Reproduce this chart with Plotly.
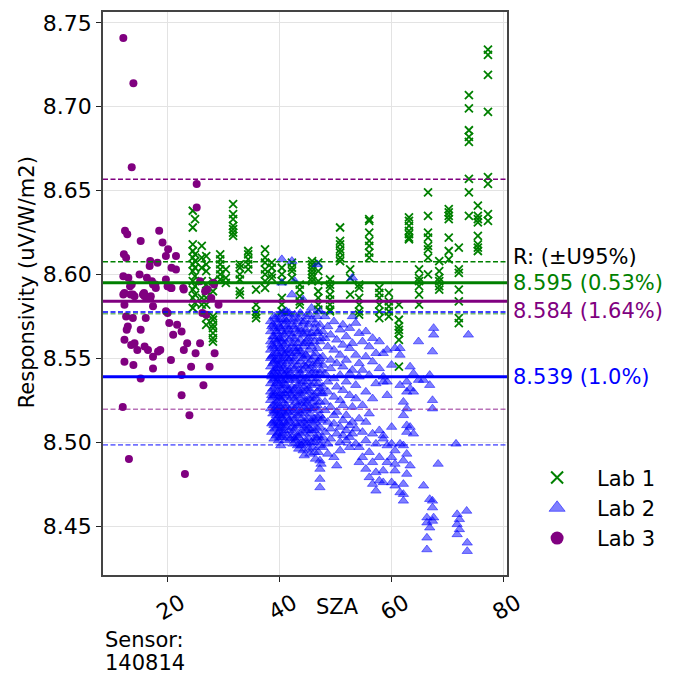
import plotly.graph_objects as go

# ---------------- data ----------------
# Lab 1: measurement columns (SZA) and responsivity values in each column
lab1_col_sza = [24.6, 25.0, 26.2, 27.0, 28.2, 29.5, 30.5, 31.8, 33.0, 34.5, 35.9, 37.5,
                38.7, 40.5, 42.3, 43.7, 45.9, 47.0, 49.1, 50.9, 52.7, 54.3, 56.1, 57.9,
                59.6, 61.4, 63.2, 65.0, 66.6, 68.6, 70.3, 72.1, 73.9, 75.5, 77.3]
lab1_col_resp = [
    [8.638, 8.628, 8.618, 8.614, 8.610, 8.606, 8.602, 8.596, 8.591, 8.586, 8.580],
    [8.633, 8.612, 8.608, 8.604, 8.599, 8.593, 8.588, 8.583],
    [8.617, 8.610, 8.604, 8.596, 8.586, 8.582],
    [8.611, 8.606, 8.602, 8.594, 8.590, 8.586, 8.582, 8.574, 8.570],
    [8.596, 8.590, 8.575, 8.573, 8.570, 8.568, 8.565, 8.562, 8.560],
    [8.612, 8.609, 8.606, 8.603, 8.600, 8.597],
    [8.603, 8.598, 8.595],
    [8.642, 8.636, 8.633, 8.629, 8.627, 8.625, 8.623],
    [8.606, 8.604, 8.600, 8.597, 8.590, 8.588],
    [8.614, 8.612, 8.609, 8.606, 8.603],
    [8.591, 8.582, 8.578, 8.576, 8.574],
    [8.615, 8.610, 8.607, 8.603, 8.600, 8.596, 8.592],
    [8.607, 8.604, 8.600, 8.598],
    [8.604, 8.600, 8.596, 8.586, 8.582, 8.578],
    [8.607, 8.604, 8.602, 8.598],
    [8.594, 8.591, 8.587, 8.584, 8.582],
    [8.608, 8.606, 8.604, 8.602, 8.600, 8.598, 8.596],
    [8.607, 8.602, 8.596, 8.590, 8.586, 8.582, 8.579],
    [8.597, 8.594, 8.592, 8.588, 8.585, 8.582, 8.579, 8.578],
    [8.628, 8.620, 8.618, 8.615, 8.613, 8.610, 8.608],
    [8.603, 8.598, 8.588],
    [8.594, 8.592, 8.586, 8.582, 8.578, 8.576],
    [8.633, 8.632, 8.625, 8.620, 8.617, 8.613, 8.610],
    [8.592, 8.589, 8.586, 8.582, 8.578, 8.574],
    [8.589, 8.584, 8.581, 8.578, 8.575],
    [8.582, 8.573, 8.569, 8.567, 8.565, 8.561, 8.545],
    [8.634, 8.632, 8.629, 8.626, 8.624, 8.622, 8.621],
    [8.603, 8.598, 8.596, 8.593, 8.588, 8.582],
    [8.649, 8.635, 8.625, 8.622, 8.617, 8.615, 8.610, 8.600],
    [8.608, 8.602, 8.598, 8.596, 8.593, 8.591],
    [8.639, 8.637, 8.635, 8.633, 8.622, 8.614, 8.609],
    [8.616, 8.603, 8.601, 8.591, 8.584, 8.574, 8.571],
    [8.707, 8.699, 8.686, 8.682, 8.679, 8.657, 8.649, 8.635],
    [8.641, 8.635, 8.633, 8.631, 8.623, 8.618, 8.616, 8.614],
    [8.734, 8.731, 8.719, 8.697, 8.658, 8.654, 8.636, 8.632],
]

# Lab 2: measurement columns (SZA) and responsivity values in each column
lab2_col_sza = [38.5, 38.7, 38.9, 39.1, 39.3, 39.5, 39.7, 39.9, 40.1, 40.3, 40.5, 40.7,
                40.9, 41.1, 41.3, 41.5, 41.8, 42.0, 42.3, 42.5, 42.8, 43.0, 43.3, 43.5,
                43.8, 44.0, 44.3, 44.5, 44.8, 45.0, 45.3, 45.5, 45.8, 46.0, 46.3, 46.5,
                46.8, 47.0, 47.3, 47.5, 47.8, 48.2, 48.7, 49.2,
                49.8, 50.3, 50.9, 51.4, 52.0, 52.6, 53.1, 53.7, 54.3, 54.9, 55.5, 56.1,
                56.7, 57.3, 57.9, 58.6, 59.3, 60.1, 60.7, 61.6, 62.2, 62.8, 63.4, 64.0,
                64.9, 65.8, 66.4, 66.9, 67.4, 67.6, 68.4, 71.6, 71.8, 72.2, 73.5, 73.6,
                73.8]
lab2_col_resp = [
    [8.572, 8.566, 8.560, 8.555, 8.550, 8.545, 8.540, 8.535, 8.530, 8.525, 8.520],
    [8.569, 8.558, 8.551, 8.539, 8.528, 8.511, 8.506],
    [8.570, 8.563, 8.557, 8.552, 8.547, 8.542, 8.537, 8.532, 8.527, 8.522, 8.517, 8.512],
    [8.575, 8.563, 8.548, 8.541, 8.529, 8.519, 8.510, 8.502],
    [8.574, 8.568, 8.561, 8.556, 8.549, 8.543, 8.538, 8.533, 8.528, 8.523, 8.518, 8.513, 8.508],
    [8.566, 8.553, 8.544, 8.535, 8.521, 8.516, 8.504],
    [8.571, 8.565, 8.559, 8.553, 8.546, 8.541, 8.536, 8.530, 8.524, 8.519, 8.514, 8.509, 8.505],
    [8.573, 8.561, 8.549, 8.538, 8.527, 8.512, 8.501],
    [8.576, 8.569, 8.562, 8.557, 8.551, 8.544, 8.539, 8.534, 8.526, 8.521, 8.516, 8.511, 8.506, 8.503],
    [8.568, 8.556, 8.546, 8.529, 8.518, 8.508, 8.498],
    [8.609, 8.595, 8.573, 8.566, 8.560, 8.554, 8.548, 8.542, 8.537, 8.531, 8.525, 8.520, 8.515, 8.510, 8.503],
    [8.577, 8.562, 8.550, 8.533, 8.527, 8.514, 8.505],
    [8.570, 8.564, 8.558, 8.552, 8.545, 8.540, 8.535, 8.529, 8.523, 8.517, 8.512, 8.507],
    [8.573, 8.555, 8.543, 8.537, 8.520, 8.509, 8.501],
    [8.578, 8.572, 8.566, 8.559, 8.553, 8.547, 8.541, 8.534, 8.528, 8.522, 8.516, 8.511],
    [8.577, 8.569, 8.550, 8.539, 8.531, 8.518, 8.504],
    [8.577, 8.574, 8.567, 8.561, 8.555, 8.549, 8.543, 8.537, 8.531, 8.525, 8.519, 8.513, 8.507],
    [8.565, 8.553, 8.541, 8.529, 8.512, 8.502],
    [8.608, 8.588, 8.570, 8.563, 8.557, 8.551, 8.545, 8.539, 8.533, 8.527, 8.521, 8.515, 8.509, 8.503],
    [8.573, 8.559, 8.548, 8.530, 8.518, 8.506, 8.499],
    [8.596, 8.576, 8.569, 8.562, 8.556, 8.550, 8.544, 8.538, 8.532, 8.526, 8.520, 8.514, 8.508, 8.502],
    [8.567, 8.554, 8.537, 8.524, 8.511, 8.501],
    [8.572, 8.565, 8.559, 8.553, 8.546, 8.540, 8.534, 8.528, 8.522, 8.516, 8.510, 8.504, 8.498],
    [8.574, 8.556, 8.543, 8.531, 8.519, 8.503, 8.496],
    [8.577, 8.568, 8.561, 8.554, 8.548, 8.541, 8.535, 8.529, 8.523, 8.517, 8.511, 8.505, 8.499],
    [8.566, 8.552, 8.539, 8.527, 8.514, 8.498],
    [8.585, 8.571, 8.564, 8.557, 8.550, 8.543, 8.536, 8.530, 8.524, 8.518, 8.512, 8.506, 8.500, 8.495],
    [8.572, 8.559, 8.546, 8.533, 8.521, 8.509, 8.492],
    [8.575, 8.567, 8.560, 8.552, 8.545, 8.538, 8.531, 8.525, 8.519, 8.513, 8.507, 8.501],
    [8.565, 8.551, 8.536, 8.523, 8.510, 8.499],
    [8.570, 8.562, 8.555, 8.547, 8.540, 8.532, 8.526, 8.520, 8.514, 8.508, 8.502, 8.496],
    [8.576, 8.559, 8.544, 8.530, 8.517, 8.505, 8.493],
    [8.580, 8.573, 8.565, 8.557, 8.549, 8.541, 8.534, 8.527, 8.520, 8.513, 8.507, 8.500],
    [8.563, 8.546, 8.538, 8.524, 8.511, 8.497],
    [8.568, 8.560, 8.551, 8.543, 8.535, 8.528, 8.521, 8.514, 8.507, 8.500, 8.494],
    [8.571, 8.553, 8.541, 8.526, 8.512, 8.503, 8.490],
    [8.606, 8.575, 8.565, 8.556, 8.547, 8.538, 8.530, 8.522, 8.515, 8.508, 8.502],
    [8.566, 8.548, 8.535, 8.519, 8.504, 8.494],
    [8.578, 8.570, 8.560, 8.550, 8.541, 8.532, 8.524, 8.516, 8.509, 8.498, 8.489, 8.484, 8.478, 8.473],
    [8.562, 8.543, 8.529, 8.513, 8.501, 8.487],
    [8.566, 8.551, 8.546, 8.533, 8.529, 8.514, 8.503, 8.497],
    [8.575, 8.562, 8.541, 8.524, 8.519, 8.506],
    [8.569, 8.557, 8.536, 8.530, 8.512, 8.499, 8.493],
    [8.564, 8.549, 8.544, 8.521, 8.508, 8.502],
    [8.572, 8.555, 8.538, 8.527, 8.516, 8.511, 8.491],
    [8.561, 8.547, 8.533, 8.518, 8.505, 8.486],
    [8.567, 8.552, 8.540, 8.525, 8.509, 8.500, 8.495],
    [8.570, 8.558, 8.545, 8.531, 8.522, 8.513, 8.504],
    [8.563, 8.549, 8.536, 8.516, 8.507, 8.501],
    [8.568, 8.556, 8.541, 8.528, 8.510, 8.503, 8.497],
    [8.598, 8.575, 8.559, 8.543, 8.521, 8.512, 8.505],
    [8.571, 8.552, 8.534, 8.526, 8.508, 8.499],
    [8.565, 8.547, 8.539, 8.514, 8.497, 8.488],
    [8.560, 8.543, 8.522, 8.506, 8.491],
    [8.566, 8.551, 8.530, 8.512, 8.501, 8.484],
    [8.557, 8.540, 8.517, 8.494, 8.479],
    [8.562, 8.548, 8.526, 8.505, 8.488, 8.475],
    [8.553, 8.535, 8.499, 8.482, 8.471],
    [8.560, 8.544, 8.507, 8.491, 8.477],
    [8.553, 8.539, 8.536, 8.504, 8.502, 8.483, 8.476],
    [8.555, 8.536, 8.528, 8.498, 8.488],
    [8.546, 8.509, 8.499, 8.491, 8.476],
    [8.556, 8.495, 8.487, 8.483, 8.474],
    [8.556, 8.552, 8.534, 8.499, 8.470],
    [8.524, 8.516, 8.498, 8.489, 8.475, 8.469, 8.465],
    [8.536, 8.530, 8.520, 8.510, 8.506, 8.493, 8.481],
    [8.545, 8.532, 8.509, 8.486],
    [8.541, 8.530, 8.505],
    [8.560, 8.537],
    [8.537, 8.474],
    [8.443, 8.436, 8.452, 8.455],
    [8.540, 8.534, 8.466, 8.449],
    [8.554, 8.525, 8.520, 8.465, 8.461, 8.453],
    [8.568, 8.564, 8.455],
    [8.487],
    [8.499],
    [8.457, 8.451, 8.445],
    [8.454, 8.448],
    [8.459],
    [8.440, 8.435],
    [8.564],
]

# Lab 3: individual points
lab3_sza = [12.2, 14.0, 13.7, 25.3, 25.3, 12.5, 12.9, 18.6, 15.3, 19.2, 20.2, 12.3, 12.7,
            19.8, 21.6, 17.0, 16.9, 18.3, 20.8, 21.6, 12.2, 13.1, 15.1, 16.4, 19.8, 13.7,
            17.3, 17.9, 18.0, 20.2, 20.8, 22.9, 25.9, 28.3, 26.8, 12.2, 13.5, 14.2, 15.7,
            16.0, 17.0, 13.4, 17.5, 20.1, 20.7, 23.0, 27.2, 28.4, 12.4, 13.9, 15.9, 17.1,
            16.5, 12.4, 17.5, 27.9, 29.2, 19.8, 20.1, 12.7, 13.9, 16.2, 26.3, 27.0, 13.0,
            12.8, 15.3, 20.4, 21.8, 22.6, 21.1, 12.4, 13.6, 14.2, 14.7, 16.0, 16.6, 17.5,
            18.4, 18.8, 23.6, 23.0, 25.9, 25.1, 28.5, 12.4, 14.0, 17.5, 20.7, 24.3, 27.6,
            15.3, 22.6, 26.5, 22.6, 12.1, 24.0, 13.2, 23.2]
lab3_resp = [8.741, 8.714, 8.664, 8.654, 8.640, 8.626, 8.624, 8.626, 8.620, 8.619, 8.615,
             8.612, 8.610, 8.611, 8.611, 8.608, 8.605, 8.607, 8.604, 8.603, 8.599, 8.598,
             8.600, 8.598, 8.597, 8.594, 8.596, 8.594, 8.592, 8.593, 8.592, 8.592, 8.596,
             8.595, 8.590, 8.588, 8.588, 8.587, 8.588, 8.587, 8.586, 8.593, 8.594, 8.593,
             8.592, 8.591, 8.591, 8.594, 8.589, 8.588, 8.589, 8.587, 8.586, 8.582, 8.581,
             8.586, 8.582, 8.578, 8.577, 8.575, 8.574, 8.574, 8.577, 8.576, 8.569, 8.567,
             8.567, 8.571, 8.570, 8.566, 8.564, 8.561, 8.558, 8.559, 8.555, 8.557, 8.555,
             8.551, 8.554, 8.555, 8.559, 8.555, 8.559, 8.553, 8.553, 8.548, 8.546, 8.544,
             8.549, 8.545, 8.545, 8.538, 8.540, 8.534, 8.528, 8.521, 8.516, 8.490, 8.481]

# reference values: mean, upper and lower U95 bounds
lab_names = ["Lab 1", "Lab 2", "Lab 3"]
lab_colors = ["#008000", "#0000ff", "#800080"]
lab_mean = [8.595, 8.539, 8.584]
lab_upper = [8.6076, 8.5776, 8.6567]
lab_lower = [8.5766, 8.4984, 8.5196]
lab_u95_text = ["8.595 (0.53%)", "8.539 (1.0%)", "8.584 (1.64%)"]
lab_label_y = [8.5948, 8.5387, 8.5780]

x_ticks = [20, 40, 60, 80]
y_ticks = [8.45, 8.50, 8.55, 8.60, 8.65, 8.70, 8.75]

# ---------------- figure ----------------
def flatten(cols_x, cols_y):
    xs, ys = [], []
    for cx, vals in zip(cols_x, cols_y):
        for v in vals:
            xs.append(cx)
            ys.append(v)
    return xs, ys

l1x, l1y = flatten(lab1_col_sza, lab1_col_resp)
l2x, l2y = flatten(lab2_col_sza, lab2_col_resp)

FONT = "DejaVu Sans"
BLUE_FILL = "rgba(0,0,255,0.5)"
BLUE_EDGE = "rgba(0,0,255,0.5)"

fig = go.Figure()
fig.add_trace(go.Scatter(x=l1x, y=l1y, mode="markers", name=lab_names[0], showlegend=False,
                         marker=dict(symbol="x-thin", size=8, color=lab_colors[0],
                                     line=dict(color=lab_colors[0], width=1.8))))
fig.add_trace(go.Scatter(x=l2x, y=l2y, mode="markers", name=lab_names[1], showlegend=False,
                         marker=dict(symbol="triangle-up", size=9, color=BLUE_FILL,
                                     line=dict(color=BLUE_EDGE, width=1))))
fig.add_trace(go.Scatter(x=lab3_sza, y=lab3_resp, mode="markers", name=lab_names[2],
                         showlegend=False,
                         marker=dict(symbol="circle", size=8, color=lab_colors[2],
                                     line=dict(width=0))))

# legend-only entries (larger symbols, as in the reference legend)
fig.add_trace(go.Scatter(x=[None], y=[None], mode="markers", name=lab_names[0],
                         marker=dict(symbol="x-thin", size=12, color=lab_colors[0],
                                     line=dict(color=lab_colors[0], width=2))))
fig.add_trace(go.Scatter(x=[None], y=[None], mode="markers", name=lab_names[1],
                         marker=dict(symbol="triangle-up", size=14, color="rgba(0,0,255,0.5)",
                                     line=dict(color=BLUE_EDGE, width=1))))
fig.add_trace(go.Scatter(x=[None], y=[None], mode="markers", name=lab_names[2],
                         marker=dict(symbol="circle", size=13, color=lab_colors[2],
                                     line=dict(width=0))))

x0, x1 = 8.57, 80.7
for i in range(3):
    c = lab_colors[i]
    fig.add_shape(type="line", xref="x", yref="y", x0=x0, x1=x1, y0=lab_mean[i], y1=lab_mean[i],
                  line=dict(color=c, width=3))
    fig.add_shape(type="line", xref="x", yref="y", x0=x0, x1=x1, y0=lab_upper[i], y1=lab_upper[i],
                  line=dict(color=c, width=1.6 if i != 2 else 1.5, dash="5px,2.5px"))
    fig.add_shape(type="line", xref="x", yref="y", x0=x0, x1=x1, y0=lab_lower[i], y1=lab_lower[i],
                  opacity=0.55, line=dict(color=c, width=1.6 if i != 2 else 1.4, dash="5px,2.5px"))

ann = []
ann.append(dict(text="R: (±U95%)", x=1.01, xref="paper", y=8.6107, yref="y",
                xanchor="left", yanchor="middle", showarrow=False,
                font=dict(family=FONT, size=21, color="black")))
for i in range(3):
    ann.append(dict(text=lab_u95_text[i], x=1.01, xref="paper", y=lab_label_y[i], yref="y",
                    xanchor="left", yanchor="middle", showarrow=False,
                    font=dict(family=FONT, size=21, color=lab_colors[i])))
ann.append(dict(text="Sensor:", x=0, xref="paper", y=-0.115, yref="paper",
                xanchor="left", yanchor="middle", showarrow=False,
                font=dict(family=FONT, size=21, color="black")))
ann.append(dict(text="140814", x=0, xref="paper", y=-0.156, yref="paper",
                xanchor="left", yanchor="middle", showarrow=False,
                font=dict(family=FONT, size=21, color="black")))
ann.append(dict(text="SZA", x=0.58, xref="paper", y=-0.057, yref="paper",
                xanchor="center", yanchor="middle", showarrow=False,
                font=dict(family=FONT, size=21, color="black")))
ann.append(dict(text="Responsivity (uV/W/m2)", x=-0.188, xref="paper", y=0.52, yref="paper",
                xanchor="center", yanchor="middle", showarrow=False, textangle=-90,
                font=dict(family=FONT, size=21, color="black")))

axis_common = dict(showline=True, linecolor="#444444", linewidth=1.5, mirror=True,
                   ticks="outside", ticklen=5, tickwidth=1.2, tickcolor="#222222",
                   showgrid=True, gridcolor="#e3e3e3", gridwidth=1, zeroline=False,
                   tickfont=dict(family=FONT, size=22, color="black"))

# the page body adds an 8px offset, so the figure is laid out 8px smaller
fig.update_layout(
    width=676, height=669,
    margin=dict(l=95, r=177, t=2, b=102),
    paper_bgcolor="white", plot_bgcolor="white",
    font=dict(family=FONT, size=21, color="black"),
    xaxis=dict(range=[x0, x1], tickvals=x_ticks, tickangle=-30, ticklabelshift=14,
               **axis_common),
    yaxis=dict(range=[8.4208, 8.7565], tickvals=y_ticks, tickformat=".2f", **axis_common),
    legend=dict(x=1.025, xanchor="left", y=0.209, yanchor="top",
                font=dict(family=FONT, size=21, color="black"),
                bgcolor="rgba(0,0,0,0)", itemwidth=70, tracegroupgap=0),
    annotations=ann,
    showlegend=True,
)

fig.write_html("out.html")
